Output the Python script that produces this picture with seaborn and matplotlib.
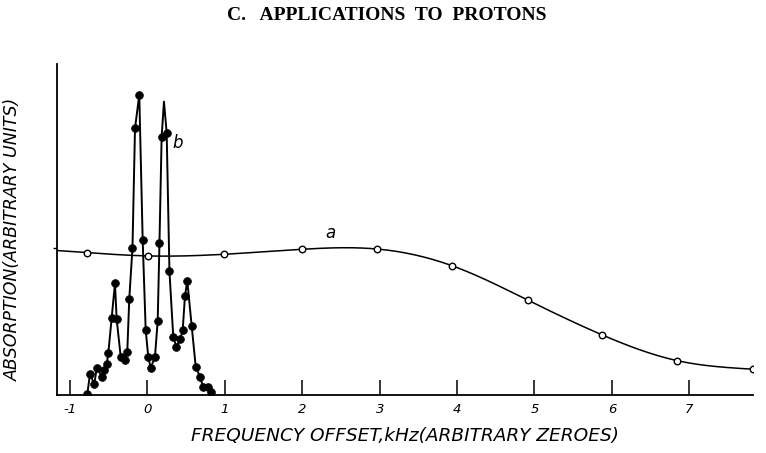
import numpy as np
import pandas as pd
import matplotlib
matplotlib.use("Agg")
import matplotlib.pyplot as plt
import seaborn as sns

# ---- data ----
# curve a (open circles)
a_x = [-0.78, 0.01, 0.99, 1.99, 2.96, 3.94, 4.91, 5.87, 6.84, 7.82]
a_y = [43.0, 42.0, 42.5, 44.0, 44.1, 39.0, 28.7, 18.2, 10.4, 7.8]

# curve b (filled dots); b_marked: whether a dot is drawn at that point
b_x = [-0.778, -0.743, -0.687, -0.656, -0.584, -0.562, -0.527, -0.506, -0.463,
       -0.420, -0.398, -0.346, -0.291, -0.261, -0.235, -0.194, -0.161, -0.106,
       -0.062, -0.023, 0.010, 0.041, 0.097, 0.132, 0.155, 0.183, 0.213, 0.248,
       0.284, 0.333, 0.372, 0.424, 0.455, 0.484, 0.514, 0.571, 0.623, 0.678,
       0.721, 0.786, 0.817]
b_y = [0.2, 6.3, 3.3, 8.1, 5.5, 7.6, 9.4, 12.6, 23.2,
       33.7, 22.9, 11.6, 10.6, 13.1, 29.1, 44.3, 80.6, 90.6,
       46.8, 19.6, 11.6, 8.1, 11.6, 22.4, 46.0, 78.0, 88.6, 79.2,
       37.3, 17.6, 14.6, 16.8, 19.6, 29.8, 34.5, 20.9, 8.6, 5.5,
       2.3, 2.3, 1.0]
b_marked = [True] * 26 + [False] + [True] * 14

x_ticks = [-1, 0, 1, 2, 3, 4, 5, 6, 7]
x_tick_labels = ["-1", "0", "1", "2", "3", "4", "5", "6", "7"]

title = "C.   APPLICATIONS  TO  PROTONS"
x_label = "FREQUENCY OFFSET,kHz(ARBITRARY ZEROES)"
y_label = "ABSORPTION(ARBITRARY UNITS)"

x_min, x_max = -1.173, 7.823
y_min, y_max = 0, 100


def natural_spline(xk, yk, xs):
    xk = np.asarray(xk, float)
    yk = np.asarray(yk, float)
    n = len(xk)
    h = np.diff(xk)
    A = np.zeros((n, n))
    r = np.zeros(n)
    A[0, 0] = 1
    A[-1, -1] = 1
    for i in range(1, n - 1):
        A[i, i - 1] = h[i - 1]
        A[i, i] = 2 * (h[i - 1] + h[i])
        A[i, i + 1] = h[i]
        r[i] = 3 * ((yk[i + 1] - yk[i]) / h[i] - (yk[i] - yk[i - 1]) / h[i - 1])
    c = np.linalg.solve(A, r)
    b = (yk[1:] - yk[:-1]) / h - h * (2 * c[:-1] + c[1:]) / 3
    d = (c[1:] - c[:-1]) / (3 * h)
    out = np.empty_like(xs)
    for j, x in enumerate(xs):
        if x < xk[0]:
            out[j] = yk[0] + b[0] * (x - xk[0])
            continue
        i = min(np.searchsorted(xk, x, side="right") - 1, n - 2)
        t = x - xk[i]
        out[j] = yk[i] + b[i] * t + c[i] * t ** 2 + d[i] * t ** 3
    return out


sns.set_theme(style="white")
plt.rcParams["font.family"] = ["DejaVu Sans"]
plt.rcParams["text.color"] = "black"
plt.rcParams["axes.labelcolor"] = "black"
plt.rcParams["xtick.color"] = "black"
plt.rcParams["ytick.color"] = "black"

fig = plt.figure(figsize=(7.66, 4.53), dpi=100)
ax = fig.add_axes([0.074, 0.128, 0.909, 0.731])

# curve a: smooth line through the open circles
xs = np.linspace(x_min, a_x[-1], 400)
ys = natural_spline(a_x, a_y, xs)
sns.lineplot(x=xs, y=ys, ax=ax, color="black", linewidth=1.1, sort=False)
sns.scatterplot(x=a_x, y=a_y, ax=ax, marker="o", s=22, facecolor="white",
                edgecolor="black", linewidth=1.0, zorder=5)

# curve b
sns.lineplot(x=b_x, y=b_y, ax=ax, color="black", linewidth=1.4, sort=False)
dfb = pd.DataFrame({"x": b_x, "y": b_y, "m": b_marked})
dfb = dfb[dfb["m"]]
sns.scatterplot(data=dfb, x="x", y="y", ax=ax, marker="o", s=32,
                color="black", edgecolor="black", zorder=6)

ax.text(2.36, 46.3, "a", fontsize=12, style="italic", ha="center", va="bottom")
ax.text(0.39, 76.0, "b", fontsize=12, style="italic", ha="center", va="center")

ax.set_xlim(x_min, x_max)
ax.set_ylim(y_min, y_max)
ax.set_xticks(x_ticks)
ax.set_xticklabels(x_tick_labels, style="italic", fontsize=9.5)
ax.set_yticks([44.4])
ax.set_yticklabels([""])
ax.tick_params(axis="x", direction="in", length=11, width=1.1, color="black",
               pad=6, bottom=True)
ax.tick_params(axis="y", direction="out", length=3, width=1.0, color="black",
               left=True)
for side in ["top", "right"]:
    ax.spines[side].set_visible(False)
for side in ["left", "bottom"]:
    ax.spines[side].set_color("black")
    ax.spines[side].set_linewidth(1.3)

ax.set_xlabel(x_label, fontsize=13.3, style="italic", labelpad=8)
ax.set_ylabel(y_label, fontsize=12.5, style="italic")
ax.yaxis.set_label_coords(-0.05, 0.47)

fig.text(0.505, 0.965, title, fontsize=14, fontweight="bold",
         family="Liberation Serif", ha="center", va="center", color="black")

fig.savefig("out.png", dpi=100)
